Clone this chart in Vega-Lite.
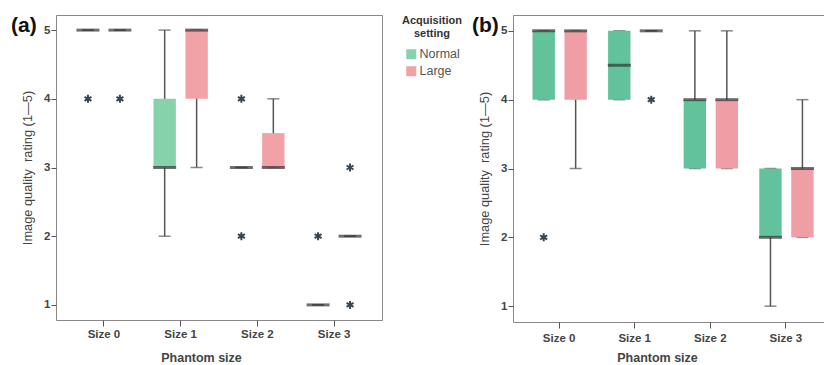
{
  "$schema": "https://vega.github.io/schema/vega-lite/v6.json",
  "padding": {"left": 10, "top": 14, "right": 0, "bottom": 0},
  "background": "white",
  "spacing": 8,
  "config": {
    "font": "Liberation Sans",
    "view": {"stroke": "#888", "strokeWidth": 1},
    "axis": {"grid": false, "domainColor": "#777", "tickColor": "#555", "labelColor": "#444", "titleColor": "#444"}
  },
  "datasets": {
    "boxes_a": [
      {"size": "Size 0", "setting": "Normal", "lo": 5, "q1": 5, "med": 5, "q3": 5, "hi": 5},
      {"size": "Size 0", "setting": "Large", "lo": 5, "q1": 5, "med": 5, "q3": 5, "hi": 5},
      {"size": "Size 1", "setting": "Normal", "lo": 2, "q1": 3, "med": 3, "q3": 4, "hi": 5},
      {"size": "Size 1", "setting": "Large", "lo": 3, "q1": 4, "med": 5, "q3": 5, "hi": 5},
      {"size": "Size 2", "setting": "Normal", "lo": 3, "q1": 3, "med": 3, "q3": 3, "hi": 3},
      {"size": "Size 2", "setting": "Large", "lo": 3, "q1": 3, "med": 3, "q3": 3.5, "hi": 4},
      {"size": "Size 3", "setting": "Normal", "lo": 1, "q1": 1, "med": 1, "q3": 1, "hi": 1},
      {"size": "Size 3", "setting": "Large", "lo": 2, "q1": 2, "med": 2, "q3": 2, "hi": 2}
    ],
    "outliers_a": [
      {"size": "Size 0", "setting": "Normal", "value": 4},
      {"size": "Size 0", "setting": "Large", "value": 4},
      {"size": "Size 2", "setting": "Normal", "value": 4},
      {"size": "Size 2", "setting": "Normal", "value": 2},
      {"size": "Size 3", "setting": "Normal", "value": 2},
      {"size": "Size 3", "setting": "Large", "value": 3},
      {"size": "Size 3", "setting": "Large", "value": 1}
    ],
    "boxes_b": [
      {"size": "Size 0", "setting": "Normal", "lo": 4, "q1": 4, "med": 5, "q3": 5, "hi": 5},
      {"size": "Size 0", "setting": "Large", "lo": 3, "q1": 4, "med": 5, "q3": 5, "hi": 5},
      {"size": "Size 1", "setting": "Normal", "lo": 4, "q1": 4, "med": 4.5, "q3": 5, "hi": 5},
      {"size": "Size 1", "setting": "Large", "lo": 5, "q1": 5, "med": 5, "q3": 5, "hi": 5},
      {"size": "Size 2", "setting": "Normal", "lo": 3, "q1": 3, "med": 4, "q3": 4, "hi": 5},
      {"size": "Size 2", "setting": "Large", "lo": 3, "q1": 3, "med": 4, "q3": 4, "hi": 5},
      {"size": "Size 3", "setting": "Normal", "lo": 1, "q1": 2, "med": 2, "q3": 3, "hi": 3},
      {"size": "Size 3", "setting": "Large", "lo": 2, "q1": 2, "med": 3, "q3": 3, "hi": 4}
    ],
    "outliers_b": [
      {"size": "Size 0", "setting": "Normal", "value": 2},
      {"size": "Size 1", "setting": "Large", "value": 4}
    ]
  },
  "resolve": {"scale": {"color": "independent"}, "legend": {"color": "independent"}},
  "hconcat": [
    {
      "width": 326,
      "height": 305,
      "title": {"text": "(a)", "anchor": "start", "frame": "group", "fontSize": 21, "fontWeight": "bold", "color": "#111", "dx": -45, "dy": 25},
      "encoding": {
        "x": {"field": "size", "type": "nominal", "scale": {"domain": ["Size 0", "Size 1", "Size 2", "Size 3"], "paddingInner": 0, "paddingOuter": 0.125},
          "axis": {"title": "Phantom size", "labelAngle": 0, "labelFontSize": 11.5, "labelFontWeight": "bold", "tickSize": 6, "labelPadding": 2, "titleFontSize": 12.5, "titleFontWeight": "bold", "titlePadding": 12, "titleX": 145, "domain": false}},
        "xOffset": {"field": "setting", "type": "nominal", "scale": {"domain": ["Normal", "Large"], "paddingInner": 0.3, "paddingOuter": 0.35}}
      },
      "layer": [
        {
          "data": {"name": "boxes_a"},
          "mark": {"type": "rule", "color": "#555", "strokeWidth": 1.5},
          "encoding": {
            "y": {"field": "lo", "type": "quantitative", "scale": {"domain": [0.78, 5.22], "nice": false, "zero": false},
              "axis": {"title": "Image quality\u00a0 rating (1—5)", "values": [1, 2, 3, 4, 5], "format": "d", "tickSize": 5, "labelPadding": 1, "labelFontSize": 11.5, "labelFontWeight": "bold", "titleFontSize": 12.8, "titleFontWeight": "normal", "titlePadding": 9, "domain": false}},
            "y2": {"field": "hi"}
          }
        },
        {
          "data": {"name": "boxes_a"},
          "mark": {"type": "tick", "color": "#555", "size": 12, "thickness": 1.5},
          "encoding": {"y": {"field": "lo", "type": "quantitative"}}
        },
        {
          "data": {"name": "boxes_a"},
          "mark": {"type": "tick", "color": "#555", "size": 12, "thickness": 1.5},
          "encoding": {"y": {"field": "hi", "type": "quantitative"}}
        },
        {
          "data": {"name": "boxes_a"},
          "mark": {"type": "bar", "opacity": 1},
          "encoding": {
            "y": {"field": "q1", "type": "quantitative"},
            "y2": {"field": "q3"},
            "color": {"field": "setting", "type": "nominal", "scale": {"domain": ["Normal", "Large"], "range": ["#86d2ab", "#f0a2a7"]},
              "legend": {"title": ["Acquisition", "setting"], "orient": "right", "offset": 20, "titleAnchor": "middle", "titleAlign": "center", "titleFontSize": 11, "titleFontWeight": "bold", "titleColor": "#333", "titlePadding": 9, "symbolType": "square", "symbolSize": 100, "symbolStrokeWidth": 0, "symbolOpacity": 1, "labelFontSize": 12.5, "labelColor": "#555", "labelOffset": 2, "rowPadding": 4}}
          }
        },
        {
          "data": {"name": "boxes_a"},
          "mark": {"type": "tick", "color": "#333", "size": 23, "thickness": 3},
          "encoding": {"y": {"field": "med", "type": "quantitative"}}
        },
        {
          "data": {"name": "outliers_a"},
          "mark": {"type": "point", "shape": "M0,-1L0,1M-0.87,-0.5L0.87,0.5M-0.87,0.5L0.87,-0.5", "filled": false, "stroke": "#3a4552", "strokeWidth": 2, "size": 64, "opacity": 1},
          "encoding": {"y": {"field": "value", "type": "quantitative"}}
        }
      ]
    },
    {
      "width": 319,
      "height": 307,
      "title": {"text": "(b)", "anchor": "start", "frame": "group", "fontSize": 21, "fontWeight": "bold", "color": "#111", "dx": -41, "dy": 25},
      "encoding": {
        "x": {"field": "size", "type": "nominal", "scale": {"domain": ["Size 0", "Size 1", "Size 2", "Size 3"], "paddingInner": 0, "paddingOuter": 0.11},
          "axis": {"title": "Phantom size", "labelAngle": 0, "labelFontSize": 11.5, "labelFontWeight": "bold", "tickSize": 6, "labelPadding": 4, "titleFontSize": 12.5, "titleFontWeight": "bold", "titlePadding": 8, "titleX": 144, "domain": false}},
        "xOffset": {"field": "setting", "type": "nominal", "scale": {"domain": ["Normal", "Large"], "paddingInner": 0.3, "paddingOuter": 0.35}}
      },
      "layer": [
        {
          "data": {"name": "boxes_b"},
          "mark": {"type": "rule", "color": "#555", "strokeWidth": 1.5},
          "encoding": {
            "y": {"field": "lo", "type": "quantitative", "scale": {"domain": [0.77, 5.23], "nice": false, "zero": false},
              "axis": {"title": "Image quality\u00a0 rating (1—5)", "values": [1, 2, 3, 4, 5], "format": "d", "tickSize": 5, "labelPadding": 1, "labelFontSize": 11.5, "labelFontWeight": "bold", "titleFontSize": 12.8, "titleFontWeight": "normal", "titlePadding": 9, "domain": false}},
            "y2": {"field": "hi"}
          }
        },
        {
          "data": {"name": "boxes_b"},
          "mark": {"type": "tick", "color": "#555", "size": 12, "thickness": 1.5},
          "encoding": {"y": {"field": "lo", "type": "quantitative"}}
        },
        {
          "data": {"name": "boxes_b"},
          "mark": {"type": "tick", "color": "#555", "size": 12, "thickness": 1.5},
          "encoding": {"y": {"field": "hi", "type": "quantitative"}}
        },
        {
          "data": {"name": "boxes_b"},
          "mark": {"type": "bar", "opacity": 1},
          "encoding": {
            "y": {"field": "q1", "type": "quantitative"},
            "y2": {"field": "q3"},
            "color": {"field": "setting", "type": "nominal", "scale": {"domain": ["Normal", "Large"], "range": ["#62c29b", "#ee9ea4"]}, "legend": null}
          }
        },
        {
          "data": {"name": "boxes_b"},
          "mark": {"type": "tick", "color": "#333", "size": 23, "thickness": 3},
          "encoding": {"y": {"field": "med", "type": "quantitative"}}
        },
        {
          "data": {"name": "outliers_b"},
          "mark": {"type": "point", "shape": "M0,-1L0,1M-0.87,-0.5L0.87,0.5M-0.87,0.5L0.87,-0.5", "filled": false, "stroke": "#3a4552", "strokeWidth": 2, "size": 64, "opacity": 1},
          "encoding": {"y": {"field": "value", "type": "quantitative"}}
        }
      ]
    }
  ]
}
